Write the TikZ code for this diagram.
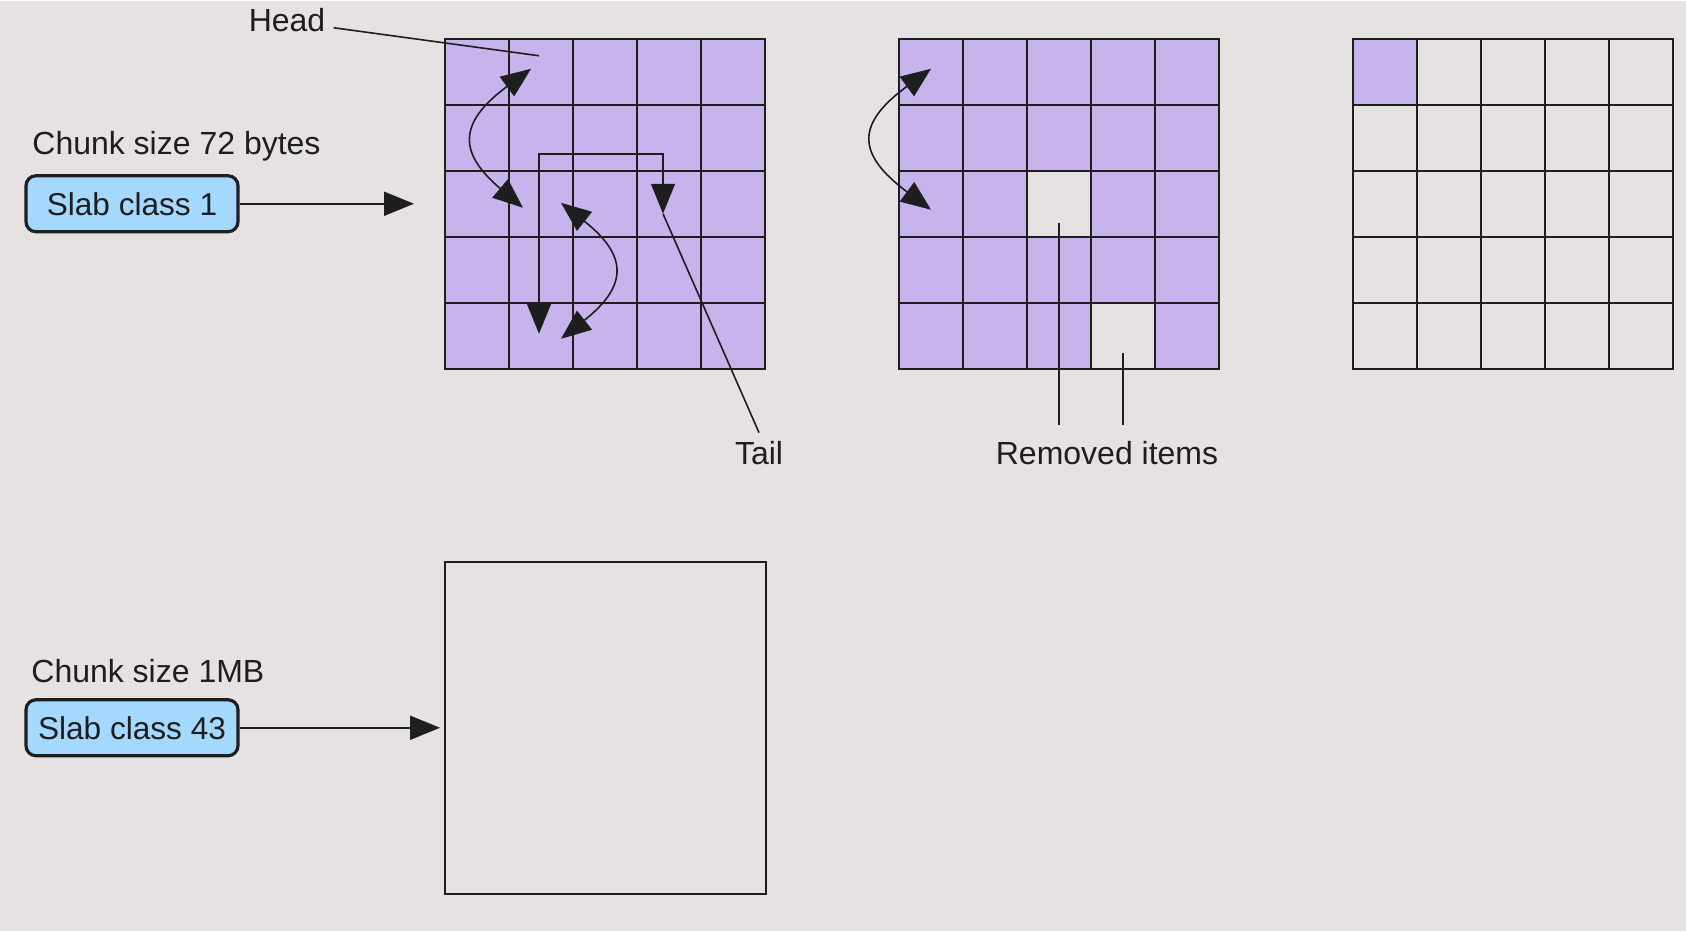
\documentclass[tikz,border=0pt]{standalone}
\usepackage{fontspec}
\setmainfont{Liberation Sans}
\usepackage{xcolor}
\usetikzlibrary{arrows.meta,positioning,calc}
\definecolor{SlabBg}{RGB}{230,226,225}
\definecolor{SlabPurple}{RGB}{199,180,237}
\definecolor{SlabBlue}{RGB}{165,216,255}
\definecolor{SlabInk}{RGB}{30,30,30}
\tikzset{
  cell/.style={draw=SlabInk, line width=1pt, minimum width=32pt, minimum height=33pt, inner sep=0pt},
  slabbox/.style={draw=SlabInk, fill=SlabBlue, line width=1.6pt, rounded corners=5pt, minimum width=106pt, minimum height=28pt, inner sep=0pt, font=\fontsize{15.8}{18}\selectfont, text=SlabInk},
  lbl/.style={font=\fontsize{16}{18}\selectfont, text=SlabInk, inner sep=4pt},
  link/.style={draw=SlabInk, line width=0.8pt},
}

\begin{document}
\begin{tikzpicture}[x=0.5pt,y=-0.5pt,>={Triangle[length=15pt,width=12pt]}]
        \fill[SlabBg] (0,0) rectangle (1686,930);
        \foreach \g/\gx in {1/445,2/899,3/1353} {
          \foreach \r in {1,...,5} {
            \foreach \c in {1,...,5} {
              \pgfmathtruncatemacro{\used}{\g==1 ? 1 : (\g==2 ? (((\r==3 && \c==3) || (\r==5 && \c==4)) ? 0 : 1) : ((\r==1 && \c==1) ? 1 : 0))}
              \ifnum\used=1
                \node[cell, fill=SlabPurple] (cell-\g-\r-\c) at ({\gx+32+64*(\c-1)},{71+66*(\r-1)}) {};
              \else
                \node[cell] (cell-\g-\r-\c) at ({\gx+32+64*(\c-1)},{71+66*(\r-1)}) {};
              \fi
            }
          }
        }
        \node[draw=SlabInk, line width=1pt, minimum width=160.5pt, minimum height=166pt, inner sep=0pt] (bigbox) at (605.5,727) {};

        \node[slabbox] (slab1) at (132,203) {Slab class 1};
        \node[slabbox] (slab43) at (132,727) {Slab class 43};
        \node[lbl, anchor=west] (chunk1) at (24,145) {Chunk size 72 bytes};
        \node[lbl, anchor=west] (chunk43) at (23,670) {Chunk size 1MB};
        \coordinate (grid1in) at (414,203);
        \draw[link, line width=1pt, ->] (slab1.east) -- (grid1in);
        \draw[link, line width=1pt, ->, shorten >=2pt] (slab43.east) -- (bigbox.west);

        \node[lbl] (head) at (287,19) {Head};
        \coordinate (headpt) at (539,55);
        \draw[link] ([yshift=-4pt]head.east) -- (headpt);

        \coordinate (up1) at (531,68);
        \coordinate (dn1) at (523,207);
        \draw[link, <->] (up1) .. controls (458,122) and (458,152) .. (dn1);
        \coordinate (up2) at (561,202);
        \coordinate (dn2) at (561,338);
        \draw[link, <->] (up2) .. controls (628,255) and (628,285) .. (dn2);
        \coordinate (brA) at (539,333);
        \coordinate (brB) at (663,213);
        \draw[link, <->] (brA) -- ++(0,-180) -| (brB);
        \node[lbl] (tail) at (759,452) {Tail};
        \draw[link] (tail.north) -- (brB);

        \coordinate (up3) at (931,68);
        \coordinate (dn3) at (931,209);
        \draw[link, <->] (up3) .. controls (856,123) and (856,153) .. (dn3);
        \node[lbl] (removed) at (1107,452) {Removed items};
        \coordinate (gone1) at ([yshift=-9.5pt]cell-2-3-3.center);
        \coordinate (gone2) at ([yshift=-8.5pt]cell-2-5-4.center);
        \draw[link] (gone1) -- ([yshift=4pt]gone1 |- removed.north);
        \draw[link] (gone2) -- ([yshift=4pt]gone2 |- removed.north);
      \end{tikzpicture}
\end{document}
